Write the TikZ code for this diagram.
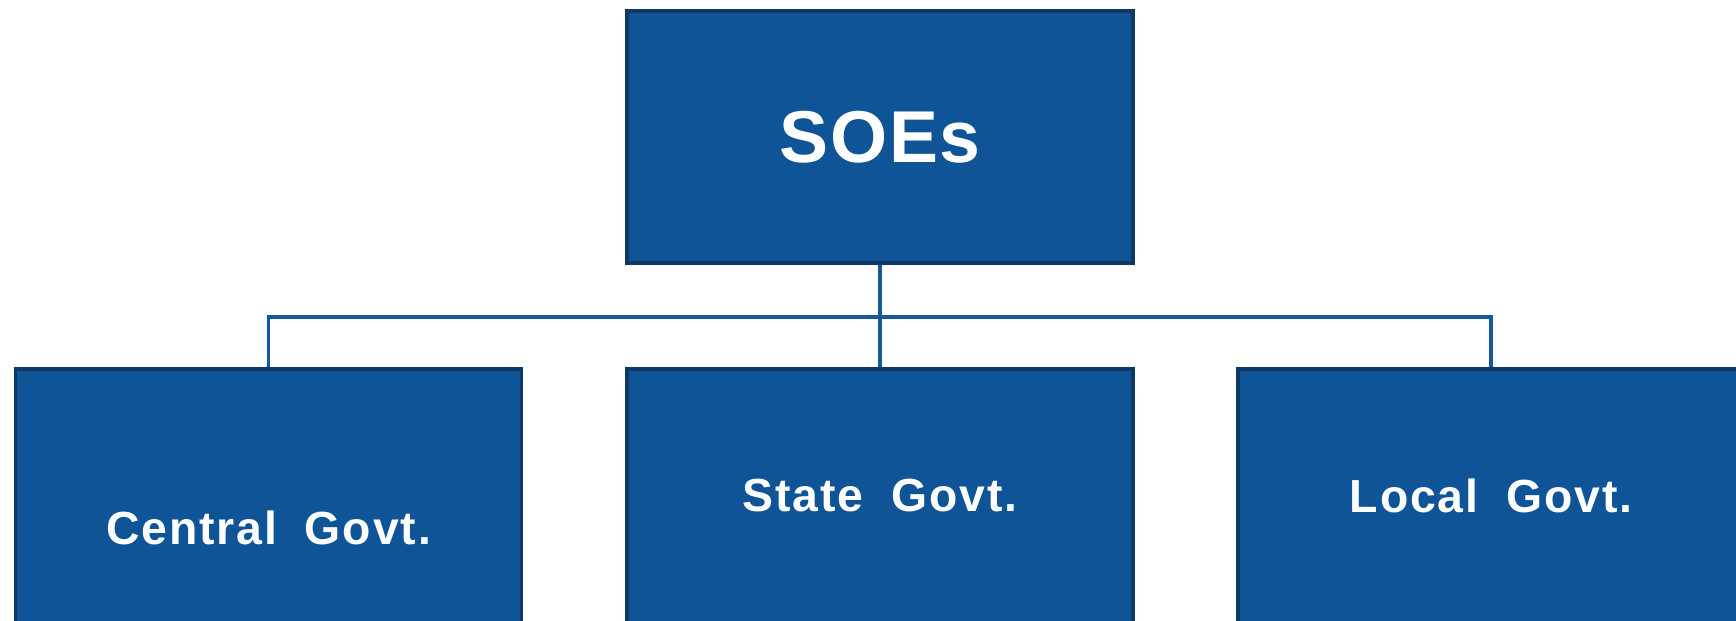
\documentclass[tikz,border=0pt]{standalone}
\usepackage{fontspec}
\setmainfont{Liberation Sans}
\newfontfamily\boxfont[LetterSpace=4]{Liberation Sans}
\newfontfamily\topfont[LetterSpace=2.5]{Liberation Sans}
\usetikzlibrary{positioning}
\definecolor{boxblue}{RGB}{14,84,150}
\definecolor{boxedge}{RGB}{14,56,102}
\definecolor{linkblue}{RGB}{20,88,160}
\begin{document}
\begin{tikzpicture}[
    orgbox/.style={draw=boxedge, line width=1.1pt, fill=boxblue, text=white,
        minimum width=5.06cm, minimum height=2.52cm, inner sep=0pt},
    govtext/.style={text=white, font=\boxfont\fontsize{13.2}{15}\selectfont\bfseries, inner sep=0pt},
    link/.style={draw=linkblue, line width=0.9pt}]
    \useasboundingbox (0,0) rectangle (17.36,-6.20);
    % top box
    \node[orgbox, font=\topfont\fontsize{20.9}{24}\selectfont\bfseries] (soe) at (8.80,-1.37) {SOEs};
    % three boxes below
    \node[orgbox, minimum height=2.60cm] (cen) at (2.685,-4.99) {};
    \node[orgbox, minimum height=2.60cm] (sta) at (8.80,-4.99) {};
    \node[orgbox, minimum height=2.60cm] (loc) at (14.91,-4.99) {};
    \node[govtext] (cen-t) at ([yshift=-2.9mm]cen.center) {Central\hspace{0.6em}Govt.};
    \node[govtext] (sta-t) at ([yshift=0.3mm]sta.center) {State\hspace{0.6em}Govt.};
    \node[govtext] (loc-t) at ([yshift=0.3mm]loc.center) {Local\hspace{0.6em}Govt.};
    % connectors
    \coordinate (bus) at (8.80,-3.17);
    \draw[link] (soe.south) -- (sta.north);
    \draw[link] (cen.north) -- (cen.north |- bus) -- (loc.north |- bus) -- (loc.north);
\end{tikzpicture}
\end{document}
